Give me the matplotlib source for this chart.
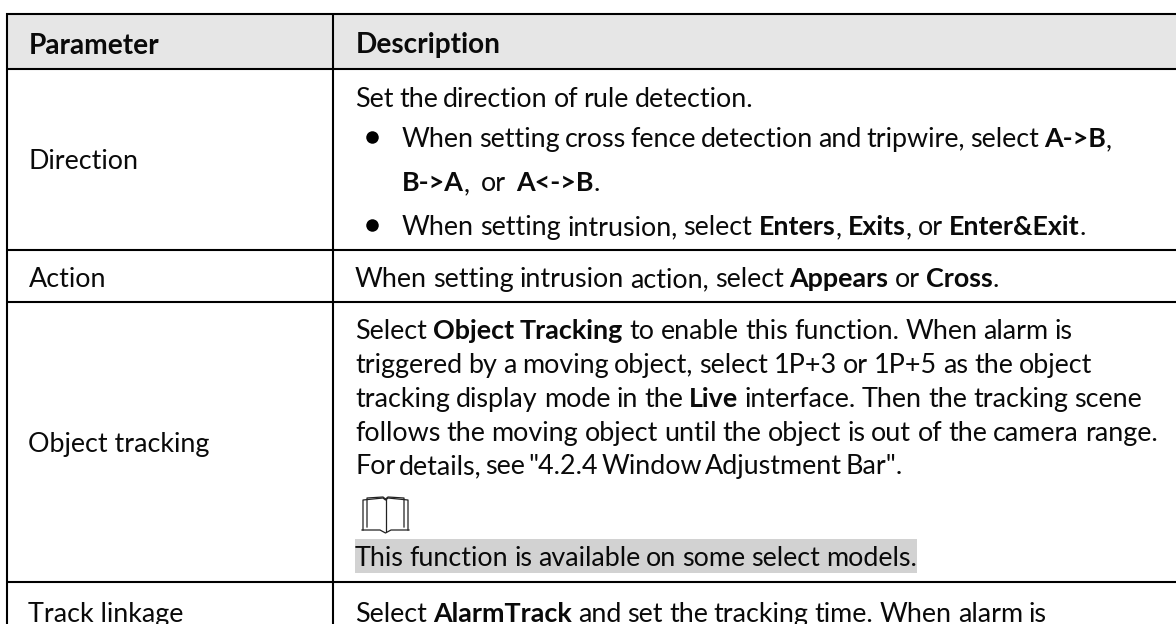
import matplotlib
matplotlib.use("Agg")
import matplotlib.pyplot as plt
from matplotlib.patches import Rectangle

FONT = "Lato"
SIZE = 19.4
HEAD_SIZE = 20.2

header = ["Parameter", "Description"]
param_rows = [("Direction", 159), ("Action", 277), ("Object tracking", 442), ("Track linkage", 612)]

# Each line: (x, centre y, target right end, segments) — segments are (text, bold)
desc_lines = [
    (355, 97, 753, [("Set the direction of rule detection.", False)]),
    (402, 137, 1112, [("When setting cross fence detection and tripwire, select ", False), ("A->B", True), (",", False)]),
    (402, 181, 600, [("B->A", True), (", or ", False), ("A<->B", True), (".", False)]),
    (402, 225, 1086, [("When setting intrusion, select ", False), ("Enters", True), (", ", False), ("Exits", True), (", or ", False), ("Enter&Exit", True), (".", False)]),
    (355, 277, 999, [("When setting intrusion action, select ", False), ("Appears", True), (" or ", False), ("Cross", True), (".", False)]),
    (355, 329, 1073, [("Select ", False), ("Object Tracking", True), (" to enable this function. When alarm is", False)]),
    (355, 363, 1092, [("triggered by a moving object, select 1P+3 or 1P+5 as the object", False)]),
    (355, 397, 1142, [("tracking display mode in the ", False), ("Live", True), (" interface. Then the tracking scene", False)]),
    (355, 431, 1158, [("follows the moving object until the object is out of the camera range.", False)]),
    (355, 464, 903, [("For details, see \"4.2.4 Window Adjustment Bar\".", False)]),
    (355, 556, 917, [("This function is available on some select models.", False)]),
    (355, 612, 1047, [("Select ", False), ("AlarmTrack", True), (" and set the tracking time. When alarm is", False)]),
]
bullet_ys = [137, 225]

hlines_y = [14, 69, 250, 302, 582]

fig = plt.figure(figsize=(11.76, 6.24), dpi=100)
ax = fig.add_axes([0, 0, 1, 1])
ax.set_xlim(0, 1176)
ax.set_ylim(624, 0)
ax.axis("off")

ax.add_patch(Rectangle((7, 14), 1169, 55, fc="#e6e6e6", ec="none"))
ax.add_patch(Rectangle((355, 539), 562, 34, fc="#d2d2d2", ec="none"))
for y in hlines_y:
    ax.plot([6, 1176], [y, y], color="black", lw=1.5, solid_capstyle="butt")
ax.plot([7, 7], [13, 624], color="black", lw=1.5, solid_capstyle="butt")
ax.plot([333, 333], [13, 624], color="black", lw=1.5, solid_capstyle="butt")

TXT = "#0a0a0a"
ax.text(29, 43, header[0], family=FONT, weight="bold", size=HEAD_SIZE, va="center_baseline", color=TXT)
ax.text(355.5, 43, header[1], family=FONT, weight="bold", size=HEAD_SIZE, va="center_baseline", color=TXT)
for name, y in param_rows:
    ax.text(28.5, y, name, family=FONT, size=SIZE, va="center_baseline", color=TXT)

r = fig.canvas.get_renderer()
def width(s, bold):
    t = ax.text(0, 0, s.replace(" ", "\u00a0"), family=FONT, size=SIZE, weight="bold" if bold else "normal")
    w = t.get_window_extent(r).width
    t.remove()
    return w

for x0, yc, xr, segs in desc_lines:
    total = sum(width(s, b) for s, b in segs)
    nsp = sum(s.count(" ") for s, _ in segs)
    extra = (xr - x0 - total) / max(nsp, 1)
    extra = max(min(extra, 5), -5)
    x = x0
    for s, b in segs:
        parts = s.split(" ")
        for i, p in enumerate(parts):
            if p:
                ax.text(x, yc, p, family=FONT, size=SIZE, weight="bold" if b else "normal",
                        va="center_baseline", color=TXT)
                x += width(p, b)
            if i < len(parts) - 1:
                x += width(" ", b) + extra

for y in bullet_ys:
    ax.plot([372], [y], "o", ms=9, color="black", mec="none")

# open-book note icon
bk = dict(color="#222222", lw=0.9)
ax.plot([363, 363, 383, 385.5, 388, 408, 408], [530, 500, 498, 500, 498, 500, 530], **bk)
ax.plot([362, 380, 385.5, 391, 409], [530, 530, 533, 530, 530], **bk)
ax.plot([367, 367, 383, 385.5, 388, 404, 404], [527, 498, 497, 499, 497, 498, 527], **bk)
ax.plot([385.5, 385.5], [499, 531], **bk)

fig.savefig("out.png", dpi=100)
